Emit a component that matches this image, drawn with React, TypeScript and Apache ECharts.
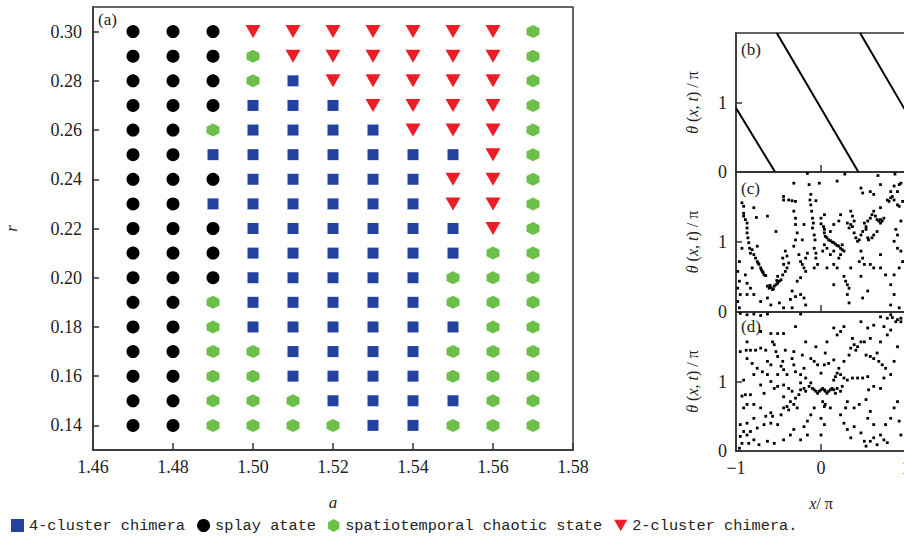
import React, { useEffect, useRef } from "react";
import * as echarts from "echarts";

// ---------- Panel (a): phase diagram ----------
const aValues = [1.47, 1.48, 1.49, 1.5, 1.51, 1.52, 1.53, 1.54, 1.55, 1.56, 1.57];
const rValues = [0.3, 0.29, 0.28, 0.27, 0.26, 0.25, 0.24, 0.23, 0.22, 0.21, 0.2, 0.19, 0.18, 0.17, 0.16, 0.15, 0.14];
// F = 4-cluster chimera, S = splay state, C = spatiotemporal chaotic, T = 2-cluster chimera
const stateRows = [
  "SSSTTTTTTTC",
  "SSSCTTTTTTC",
  "SSSCFTTTTTC",
  "SSSFFFTTTTC",
  "SSCFFFFTTTC",
  "SSFFFFFFFTC",
  "SSSFFFFFTTC",
  "SSFFFFFFTTC",
  "SSSFFFFFFTC",
  "SSSFFFFFFCC",
  "SSSFFFFFCCC",
  "SSCFFFFFCCC",
  "SSCFFFFFFCC",
  "SSCCFFFFCCC",
  "SSCCFFFFCCC",
  "SSCCCFFFFCC",
  "SSCCCCFFCCC",
];
const stateCodes = ["F", "S", "C", "T"];
const stateNames = ["4-cluster chimera", "splay atate", "spatiotemporal chaotic state", "2-cluster chimera."];
const stateColors = ["#2342a0", "#000000", "#6cc04a", "#ee1c25"];
const rTickValues = [0.14, 0.16, 0.18, 0.2, 0.22, 0.24, 0.26, 0.28, 0.3];

// ---------- Panel (b): splay state lines ----------
const bLine1 = [[-1, 0.92], [-0.54, 0]];
const bLine2 = [[-0.52, 2], [0.44, 0]];
const bLine3 = [[0.46, 2], [1, 0.87]];

// ---------- Panel (c): snapshot points ----------
const cPoints = [
  [-0.93, 1.56], [-0.91, 1.51], [-0.91, 1.41], [-0.91, 1.37], [-0.89, 1.32], [-0.87, 1.27], [-0.87, 1.2], [-0.87, 1.13],
  [-0.86, 1.06], [-0.85, 0.99], [-0.84, 0.91], [-0.83, 0.84], [-0.93, 0.91], [-0.96, 0.72], [-0.98, 0.58], [-0.96, 0.44],
  [-0.98, 0.34], [-0.95, 0.25], [-0.98, 0.15], [-0.96, 0.06],
  [-0.81, 0.89], [-0.79, 0.82], [-0.77, 0.77], [-0.75, 0.72], [-0.74, 0.7], [-0.73, 0.68], [-0.71, 0.63], [-0.7, 0.6],
  [-0.69, 0.58], [-0.68, 0.56], [-0.67, 0.53], [-0.65, 0.52],
  [-0.63, 0.37], [-0.61, 0.34], [-0.6, 0.38], [-0.59, 0.35], [-0.57, 0.32], [-0.56, 0.33], [-0.55, 0.37], [-0.53, 0.39],
  [-0.52, 0.45], [-0.51, 0.41], [-0.49, 0.44], [-0.51, 0.51], [-0.47, 0.46], [-0.45, 0.53],
  [-0.79, 1.49], [-0.76, 1.35], [-0.63, 1.37], [-0.53, 1.15], [-0.75, 0.94], [-0.81, 0.63], [-0.89, 0.53], [-0.87, 0.41],
  [-0.83, 0.34], [-0.87, 0.25], [-0.79, 0.25], [-0.71, 0.15], [-0.63, 0.2], [-0.59, 0.1], [-0.49, 0.13], [-0.44, 0.06],
  [-0.36, 0.18], [-0.34, 0.06],
  [-0.44, 1.65], [-0.44, 1.6], [-0.38, 1.6], [-0.34, 1.59], [-0.3, 1.58], [-0.32, 1.84],
  [-0.42, 0.87], [-0.4, 0.8], [-0.38, 0.7], [-0.4, 0.63], [-0.42, 0.58], [-0.44, 0.68], [-0.45, 0.77],
  [-0.32, 1.44], [-0.3, 1.34], [-0.3, 1.25], [-0.28, 1.13], [-0.3, 1.03], [-0.32, 0.94], [-0.26, 0.82], [-0.24, 0.72],
  [-0.22, 0.68], [-0.2, 0.63], [-0.18, 0.58], [-0.24, 0.49], [-0.28, 0.44], [-0.34, 0.3], [-0.3, 0.22], [-0.24, 0.25],
  [-0.2, 0.2], [-0.18, 0.1],
  [-0.14, 1.82], [-0.12, 1.68], [-0.13, 1.6], [-0.12, 1.53], [-0.11, 1.44], [-0.1, 1.34], [-0.09, 1.27], [-0.1, 1.2],
  [-0.08, 1.1], [-0.07, 1.03], [-0.08, 0.91], [-0.06, 0.84], [-0.06, 0.77], [-0.04, 0.68], [-0.08, 0.63], [-0.18, 0.77],
  [-0.16, 0.84], [-0.22, 1.03], [-0.2, 1.25],
  [-0.02, 1.84], [-0.06, 1.59], [0.0, 1.34], [0.0, 1.26], [0.03, 1.22], [0.04, 1.18], [0.04, 1.13], [0.05, 1.08],
  [0.07, 1.06], [0.09, 1.03], [0.11, 1.02], [0.13, 1.0], [0.15, 0.99], [0.17, 0.97], [0.19, 0.95], [0.21, 0.94],
  [0.23, 0.91], [0.25, 0.89], [0.23, 0.82], [0.21, 0.77], [0.27, 0.87], [0.25, 0.96], [0.15, 0.87], [0.11, 0.82],
  [0.07, 0.91], [0.04, 0.96], [0.02, 0.87], [0.15, 0.68], [0.07, 0.63], [0.19, 1.87], [0.21, 1.3], [0.15, 1.25],
  [0.11, 1.15], [0.31, 1.27], [0.33, 1.2], [0.35, 1.25], [0.37, 1.22], [0.39, 1.3], [0.35, 1.44], [0.37, 1.37],
  [0.39, 1.13], [0.41, 1.06], [0.43, 1.01], [0.45, 1.03], [0.47, 1.1], [0.49, 1.15], [0.53, 1.18], [0.55, 1.06],
  [0.56, 1.03], [0.53, 1.22], [0.51, 1.27], [0.55, 1.3], [0.58, 1.34], [0.6, 1.39], [0.62, 1.44], [0.64, 1.37],
  [0.66, 1.32], [0.68, 1.3], [0.7, 1.32], [0.72, 1.3], [0.74, 1.34], [0.7, 1.27], [0.66, 1.15], [0.62, 1.1],
  [0.6, 1.06], [0.47, 0.87], [0.49, 0.77], [0.45, 0.72], [0.51, 0.68], [0.58, 0.68], [0.62, 0.63],
  [0.27, 0.51], [0.29, 0.44], [0.31, 0.39], [0.33, 0.34], [0.31, 0.25], [0.33, 0.13], [0.47, 0.51], [0.49, 0.2],
  [0.55, 0.3], [0.15, 0.39], [0.19, 0.63], [0.35, 0.63],
  [0.78, 1.6], [0.8, 1.58], [0.82, 1.63], [0.84, 1.65], [0.86, 1.6], [0.9, 1.53], [0.92, 1.51], [0.9, 1.72],
  [0.92, 1.82], [0.94, 1.84], [0.86, 1.8], [0.82, 1.72], [0.47, 1.77], [0.49, 1.7], [0.62, 1.68], [0.58, 1.72],
  [0.7, 1.49], [0.88, 1.18], [0.9, 1.1], [0.86, 1.01], [0.9, 0.91], [0.94, 0.87], [0.96, 0.72], [0.92, 0.63],
  [0.86, 0.53], [0.82, 0.39], [0.86, 0.25], [0.7, 0.82], [0.7, 0.63], [0.76, 0.53], [0.92, 0.06], [0.82, 0.1],
  [0.23, 1.39], [0.04, 1.39], [0.94, 1.3], [0.96, 1.58], [0.7, 1.82],
  [-0.16, 1.98], [0.28, 1.97], [0.67, 1.95], [0.87, 1.97],
];

// ---------- Panel (d): snapshot points ----------
const dPoints = [
  [-0.95, 1.98], [-0.87, 1.96], [-0.79, 1.97], [-0.71, 1.95], [-0.63, 1.97], [-0.24, 1.97], [0.7, 1.93], [0.78, 1.91],
  [0.84, 1.92], [0.9, 1.89], [0.94, 1.91], [0.82, 1.96], [0.88, 1.86], [0.94, 1.86],
  [-0.59, 1.69], [-0.51, 1.69], [-0.44, 1.69], [-0.3, 1.79], [-0.87, 1.57], [-0.88, 1.45], [-0.83, 1.45], [-0.77, 1.45],
  [-0.71, 1.48], [-0.65, 1.45], [-0.95, 1.43], [-0.57, 1.57], [-0.55, 1.53], [-0.53, 1.43], [-0.51, 1.36], [-0.45, 1.29],
  [-0.47, 1.22], [-0.44, 1.17], [-0.4, 1.1], [-0.42, 1.45], [-0.63, 1.29], [-0.75, 1.19], [-0.69, 1.14], [-0.63, 1.1],
  [-0.59, 1.24], [-0.51, 1.1], [-0.34, 1.33], [-0.32, 1.24], [-0.3, 1.14], [-0.24, 1.1], [-0.2, 1.19], [-0.18, 1.05],
  [-0.12, 0.98], [-0.14, 0.93], [-0.2, 0.9], [-0.18, 0.86], [-0.24, 0.88], [-0.26, 0.81], [-0.3, 0.76], [-0.34, 0.86],
  [-0.38, 0.9], [-0.44, 0.95], [-0.51, 0.93], [-0.55, 0.9], [-0.59, 1.0],
  [-0.1, 0.9], [-0.08, 0.88], [-0.06, 0.86], [-0.04, 0.83], [-0.02, 0.86], [0.0, 0.88], [0.02, 0.9], [0.04, 0.88],
  [0.05, 0.86], [0.07, 0.83], [0.09, 0.86], [0.11, 0.88], [0.13, 0.9], [0.15, 0.88], [0.17, 0.83], [0.19, 0.9],
  [0.23, 0.86], [0.25, 0.93], [0.15, 1.02], [0.17, 1.07], [0.19, 1.12], [0.21, 1.19], [0.23, 1.1], [0.27, 1.05],
  [0.31, 1.02], [0.37, 1.05], [0.43, 1.05], [0.49, 1.05], [0.55, 1.07],
  [0.07, 1.57], [0.15, 1.77], [0.19, 1.67], [0.23, 1.72], [0.27, 1.79], [0.37, 1.62], [0.39, 1.53], [0.41, 1.45],
  [0.43, 1.5], [0.47, 1.57], [0.51, 1.57], [0.35, 1.48], [0.33, 1.38], [0.27, 1.29], [0.15, 1.31], [0.09, 1.26],
  [0.04, 1.24], [0.0, 1.12], [0.05, 1.41], [0.53, 1.38], [0.58, 1.36], [0.62, 1.33], [0.68, 1.29], [0.72, 1.24],
  [0.76, 1.19], [0.66, 1.41], [0.7, 1.57], [0.78, 1.67], [0.82, 1.74], [0.74, 1.79], [0.62, 1.81], [0.55, 1.77],
  [0.47, 1.86], [0.58, 1.62], [0.9, 1.5], [0.86, 1.29], [0.82, 1.1], [0.74, 1.05], [0.7, 0.9], [0.62, 0.93],
  [0.56, 0.88], [0.53, 0.74], [0.45, 0.67], [0.39, 0.62], [0.31, 0.71], [0.29, 0.62], [0.23, 0.52], [0.27, 0.4],
  [0.31, 0.31], [0.35, 0.19], [0.39, 0.35], [0.47, 0.26], [0.51, 0.14], [0.53, 0.07], [0.58, 0.14], [0.62, 0.19],
  [0.66, 0.09], [0.7, 0.23], [0.74, 0.16], [0.78, 0.12], [0.76, 0.38], [0.82, 0.47], [0.86, 0.62], [0.9, 0.71],
  [0.92, 0.43], [0.94, 0.23], [0.55, 0.47], [0.58, 0.57], [0.62, 0.38],
  [0.02, 0.71], [0.04, 0.64], [0.05, 0.67], [0.11, 0.62], [0.0, 0.47], [0.04, 0.38], [0.0, 0.23], [-0.08, 0.62],
  [-0.12, 0.52], [-0.16, 0.43], [-0.2, 0.35], [-0.28, 0.62], [-0.32, 0.67], [-0.36, 0.71], [-0.4, 0.64], [-0.38, 0.59],
  [-0.44, 0.62], [-0.47, 0.52], [-0.59, 0.55], [-0.57, 0.5], [-0.65, 0.5], [-0.71, 0.62], [-0.79, 0.67], [-0.87, 0.67],
  [-0.91, 0.62], [-0.89, 0.81], [-0.83, 0.81], [-0.93, 0.79], [-0.79, 0.47], [-0.87, 0.4], [-0.95, 0.38], [-0.91, 0.28],
  [-0.83, 0.28], [-0.75, 0.33], [-0.67, 0.38], [-0.59, 0.4], [-0.51, 0.38], [-0.95, 0.21], [-0.87, 0.23], [-0.93, 0.11],
  [-0.85, 0.11], [-0.79, 0.16], [-0.73, 0.09], [-0.63, 0.14], [-0.55, 0.11], [-0.44, 0.16], [-0.36, 0.23], [-0.24, 0.16],
  [-0.32, 0.31], [-0.16, 0.23], [-0.96, 0.04], [-0.32, 1.43], [-0.22, 1.38], [-0.12, 1.33], [-0.08, 1.29], [-0.04, 1.24],
  [-0.18, 1.57], [-0.06, 1.5], [-0.71, 1.72], [-0.87, 1.33], [-0.81, 1.26], [-0.79, 1.1], [-0.91, 1.02], [-0.71, 0.95],
  [-0.67, 0.83], [-0.44, 0.78], [-0.24, 0.98],
];

const SERIF = "Liberation Serif, DejaVu Serif, serif";
const MONO = "Liberation Mono, DejaVu Sans Mono, monospace";
const AXIS_COLOR = "#333";
const TEXT_COLOR = "#222";

const hexPath = "path://M50,0L93.3,25L93.3,75L50,100L6.7,75L6.7,25Z";
const triPath = "path://M0,0L100,0L50,87Z";
const stateSymbols = ["rect", "circle", hexPath, triPath];
const stateSizes: any[] = [11, 13, 13, [15, 13]];

function buildStatePoints(code: string) {
  const pts: number[][] = [];
  stateRows.forEach((row, i) => {
    row.split("").forEach((c, j) => {
      if (c === code) pts.push([aValues[j], rValues[i]]);
    });
  });
  return pts;
}

const thetaName = "{i|θ} ({i|x}, {i|t}) / π";

export default function App() {
  const ref = useRef<HTMLDivElement>(null);

  useEffect(() => {
    if (!ref.current) return;
    const chart = echarts.init(ref.current, null, { renderer: "svg" });

    const axisLine = { show: true, onZero: false, lineStyle: { color: AXIS_COLOR, width: 1.5 } };
    const richName = {
      fontFamily: SERIF,
      fontSize: 16,
      color: TEXT_COLOR,
      rich: { i: { fontStyle: "italic", fontFamily: SERIF, fontSize: 16, color: TEXT_COLOR } },
    };

    const rightGrids = [
      { left: 736, top: 33, width: 170, height: 139 },
      { left: 736, top: 172, width: 170, height: 140 },
      { left: 736, top: 312, width: 170, height: 139 },
    ];

    const xAxes: any[] = [
      {
        gridIndex: 0,
        type: "value",
        min: 1.46,
        max: 1.58,
        interval: 0.02,
        axisLine,
        axisTick: { show: true, inside: true, length: 7, lineStyle: { color: AXIS_COLOR, width: 1.5 } },
        axisLabel: {
          formatter: (v: number) => v.toFixed(2),
          fontFamily: SERIF,
          fontSize: 18,
          color: TEXT_COLOR,
          margin: 8,
        },
        splitLine: { show: false },
        name: "a",
        nameLocation: "middle",
        nameGap: 44,
        nameTextStyle: { fontFamily: SERIF, fontStyle: "italic", fontSize: 17, color: TEXT_COLOR },
      },
    ];
    const yAxes: any[] = [
      {
        gridIndex: 0,
        type: "value",
        min: 0.13,
        max: 0.31,
        axisLine,
        axisTick: {
          show: true,
          inside: true,
          length: 6,
          customValues: rTickValues,
          lineStyle: { color: AXIS_COLOR, width: 1.5 },
        },
        axisLabel: {
          customValues: rTickValues,
          formatter: (v: number) => v.toFixed(2),
          fontFamily: SERIF,
          fontSize: 18,
          color: TEXT_COLOR,
          margin: 11,
        },
        splitLine: { show: false },
        name: "r",
        nameLocation: "middle",
        nameGap: 73,
        nameRotate: 90,
        nameTextStyle: { fontFamily: SERIF, fontStyle: "italic", fontSize: 17, color: TEXT_COLOR },
      },
    ];

    rightGrids.forEach((_, k) => {
      const gi = k + 1;
      const last = k === 2;
      xAxes.push({
        gridIndex: gi,
        type: "value",
        min: -1,
        max: 1,
        interval: 1,
        axisLine,
        axisTick: { show: true, inside: true, length: 7, lineStyle: { color: AXIS_COLOR, width: 1.5 } },
        axisLabel: {
          show: last,
          formatter: (v: number) => (v < 0 ? "−" + Math.abs(v) : String(v)),
          fontFamily: SERIF,
          fontSize: 18,
          color: TEXT_COLOR,
          margin: 8,
        },
        splitLine: { show: false },
        name: last ? "{i|x}/ π" : "",
        nameLocation: "middle",
        nameGap: 44,
        nameTextStyle: richName,
      });
      yAxes.push({
        gridIndex: gi,
        type: "value",
        min: 0,
        max: 2,
        interval: 1,
        axisLine,
        axisTick: { show: true, inside: true, length: 6, lineStyle: { color: AXIS_COLOR, width: 1.5 } },
        axisLabel: {
          showMaxLabel: false,
          formatter: (v: number) => (v === 2 ? "" : String(v)),
          fontFamily: SERIF,
          fontSize: 18,
          color: TEXT_COLOR,
          margin: 9,
        },
        splitLine: { show: false },
        name: thetaName,
        nameLocation: "middle",
        nameGap: 36,
        nameRotate: 90,
        nameTextStyle: richName,
      });
    });

    const stateSeries = stateCodes.map((code, k) => ({
      name: stateNames[k],
      type: "scatter",
      xAxisIndex: 0,
      yAxisIndex: 0,
      data: buildStatePoints(code),
      symbol: stateSymbols[k],
      symbolSize: stateSizes[k],
      itemStyle: { color: stateColors[k], opacity: 1 },
    }));

    const lineSeries = [bLine1, bLine2, bLine3].map((d, k) => ({
      name: "b" + k,
      type: "line",
      xAxisIndex: 1,
      yAxisIndex: 1,
      data: d,
      showSymbol: false,
      symbol: "none",
      lineStyle: { color: "#000", width: 2 },
    }));

    const dotSeries = [cPoints, dPoints].map((d, k) => ({
      name: "snap" + k,
      type: "scatter",
      xAxisIndex: k + 2,
      yAxisIndex: k + 2,
      data: d,
      symbol: "rect",
      symbolSize: 2.8,
      itemStyle: { color: "#000", opacity: 1 },
    }));

    const panelLabel = (text: string, x: number, y: number) => ({
      type: "text",
      left: x,
      top: y,
      style: { text, fontFamily: SERIF, fontSize: 17, fill: TEXT_COLOR },
    });

    const gridBase = { show: true, borderColor: AXIS_COLOR, borderWidth: 1.5, outerBoundsMode: "none", containLabel: false };

    chart.setOption({
      animation: false,
      backgroundColor: "#ffffff",
      textStyle: { fontFamily: SERIF },
      grid: [
        { left: 93, top: 7, width: 480, height: 443, ...gridBase },
        ...rightGrids.map((g) => ({ ...g, ...gridBase })),
      ],
      xAxis: xAxes,
      yAxis: yAxes,
      legend: {
        left: 11,
        top: 518,
        padding: 0,
        orient: "horizontal",
        itemGap: 12,
        itemWidth: 13,
        itemHeight: 13,
        data: stateNames.map((n, k) => ({ name: n, icon: stateSymbols[k] })),
        textStyle: { fontFamily: MONO, fontSize: 15.3, color: TEXT_COLOR },
        selectedMode: false,
      },
      graphic: [
        panelLabel("(a)", 98, 11),
        panelLabel("(b)", 741, 41),
        panelLabel("(c)", 741, 180),
        panelLabel("(d)", 741, 318),
      ],
      series: [...stateSeries, ...lineSeries, ...dotSeries],
    });

    return () => chart.dispose();
  }, []);

  return (
    <div style={{ position: "fixed", left: 0, top: 0, width: 904, height: 538, overflow: "hidden", background: "#fff" }}>
      <div ref={ref} style={{ width: 904, height: 538 }} />
    </div>
  );
}
